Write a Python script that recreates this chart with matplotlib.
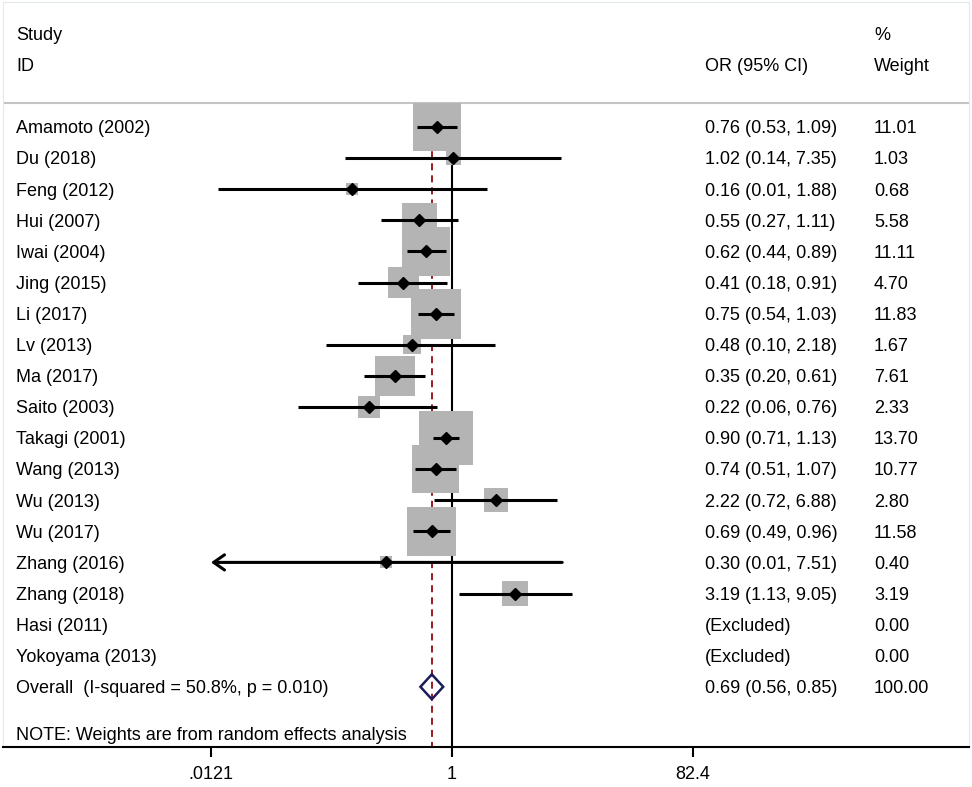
import numpy as np
import matplotlib
matplotlib.use("Agg")
import matplotlib.pyplot as plt
from matplotlib.transforms import blended_transform_factory

plt.rcParams['font.family'] = ['Liberation Sans', 'DejaVu Sans']

# Study data (OR, lower, upper, weight %)
studies = ["Amamoto (2002)", "Du (2018)", "Feng (2012)", "Hui (2007)", "Iwai (2004)",
           "Jing (2015)", "Li (2017)", "Lv (2013)", "Ma (2017)", "Saito (2003)",
           "Takagi (2001)", "Wang (2013)", "Wu (2013)", "Wu (2017)", "Zhang (2016)",
           "Zhang (2018)"]
or_est = [0.76, 1.02, 0.16, 0.55, 0.62, 0.41, 0.75, 0.48, 0.35, 0.22,
          0.90, 0.74, 2.22, 0.69, 0.30, 3.19]
ci_lo = [0.53, 0.14, 0.0137, 0.27, 0.44, 0.18, 0.54, 0.10, 0.20, 0.06,
         0.71, 0.51, 0.72, 0.49, 0.0095, 1.13]
ci_hi = [1.09, 7.35, 1.88, 1.11, 0.89, 0.91, 1.03, 2.18, 0.61, 0.76,
         1.13, 1.07, 6.88, 0.96, 7.51, 9.05]
weights = [11.01, 1.03, 0.68, 5.58, 11.11, 4.70, 11.83, 1.67, 7.61, 2.33,
           13.70, 10.77, 2.80, 11.58, 0.40, 3.19]

excluded = ["Hasi (2011)", "Yokoyama (2013)"]

overall_or = 0.69
overall_lo = 0.56
overall_hi = 0.85
overall_label = "Overall  (I-squared = 50.8%, p = 0.010)"
note = "NOTE: Weights are from random effects analysis"

xticks = [0.0121, 1, 82.4]
xticklabels = [".0121", "1", "82.4"]

W, H = 972, 787
fig = plt.figure(figsize=(W / 100, H / 100), dpi=100)

# frame in pixels
fl, fr, ft, fb = 3, 969, 2, 747
ax = fig.add_axes([fl / W, 1 - fb / H, (fr - fl) / W, (fb - ft) / H])
ax.set_xscale('log')

# map tick .0121 -> 211 px, 82.4 -> 693 px
p0, p1 = 211, 693
l0, l1 = np.log10(xticks[0]), np.log10(xticks[-1])
ppd = (p1 - p0) / (l1 - l0)
ax.set_xlim(10 ** (l0 - (p0 - fl) / ppd), 10 ** (l1 + (fr - p1) / ppd))

# rows: y_px = 127 + 31.1 * i
row0, dy = 127, 31.1
ax.set_ylim((fb - row0) / dy, (ft - row0) / dy)
top_line = (103 - row0) / dy
y_bottom = ax.get_ylim()[0]

n = len(studies)
rows = np.arange(n)
ex_rows = np.arange(n, n + len(excluded))
overall_row = n + len(excluded)
note_row = overall_row + 1.5

# header separator
ax.axhline(top_line, color="#c4c4c4", lw=1.5, zorder=1)

# null line and overall line
ax.plot([1, 1], [top_line, y_bottom], color="black", lw=1.5,
        solid_capstyle='butt', zorder=1)
ax.plot([overall_or, overall_or], [top_line, y_bottom], color="#9a1a22",
        lw=1.4, dashes=(3.6, 2.6), dash_capstyle='butt', zorder=1)

# weight boxes (side ~ sqrt(weight), with a small minimum size)
sizes = [max(109 * w, 75) for w in weights]
ax.scatter(or_est, rows, marker='s', s=sizes,
           color="#b4b4b4", linewidths=0, zorder=2)

# confidence intervals
xmin_tick = xticks[0]
for i in range(n):
    if ci_lo[i] < xmin_tick:
        ax.annotate('', xy=(xmin_tick, rows[i]), xytext=(ci_hi[i], rows[i]),
                    arrowprops=dict(arrowstyle='->,head_length=0.6,head_width=0.42',
                                    lw=2.2, color='black', shrinkA=0, shrinkB=0,
                                    mutation_scale=13), zorder=3)
    else:
        ax.plot([ci_lo[i], ci_hi[i]], [rows[i], rows[i]], color='black', lw=2.2,
                solid_capstyle='butt', zorder=3)
ax.plot(or_est, rows, linestyle='none', marker='D', markersize=6,
        color='black', zorder=4)

# overall diamond
dh = 0.4
ax.fill([overall_lo, overall_or, overall_hi, overall_or, overall_lo],
        [overall_row, overall_row - dh, overall_row, overall_row + dh, overall_row],
        facecolor='none', edgecolor='#1c1c5c', lw=1.8, zorder=5)

# axes styling
for side in ['left', 'right', 'top']:
    ax.spines[side].set_color('#e2e9e9')
    ax.spines[side].set_linewidth(0.8)
ax.spines['bottom'].set_linewidth(1.5)
ax.set_yticks([])
ax.minorticks_off()
ax.set_xticks(xticks)
ax.set_xticklabels(xticklabels, fontsize=13)
ax.tick_params(axis='x', which='major', length=7, width=1.5, pad=7)
ax.tick_params(axis='x', which='minor', length=0)

# text columns
tr = blended_transform_factory(fig.transFigure, ax.transData)
x_study, x_or, x_wt = 16 / W, 705 / W, 874 / W
fs = 13
off = 0.06
kw = dict(transform=tr, fontsize=fs, va='center', ha='left', clip_on=False)

ax.text(x_study, -3 + off, "Study", **kw)
ax.text(x_study, -2 + off, "ID", **kw)
ax.text(x_or, -2 + off, "OR (95% CI)", **kw)
ax.text(x_wt, -3 + off, "%", **kw)
ax.text(x_wt, -2 + off, "Weight", **kw)

for i in range(n):
    ax.text(x_study, rows[i] + off, studies[i], **kw)
    ax.text(x_or, rows[i] + off, f"{or_est[i]:.2f} ({ci_lo[i]:.2f}, {ci_hi[i]:.2f})", **kw)
    ax.text(x_wt, rows[i] + off, f"{weights[i]:.2f}", **kw)

for j, name in enumerate(excluded):
    ax.text(x_study, ex_rows[j] + off, name, **kw)
    ax.text(x_or, ex_rows[j] + off, "(Excluded)", **kw)
    ax.text(x_wt, ex_rows[j] + off, "0.00", **kw)

ax.text(x_study, overall_row + off, overall_label, **kw)
ax.text(x_or, overall_row + off, f"{overall_or:.2f} ({overall_lo:.2f}, {overall_hi:.2f})", **kw)
ax.text(x_wt, overall_row + off, "100.00", **kw)
ax.text(x_study, note_row + off, note, **kw)

fig.savefig("out.png", dpi=100)
